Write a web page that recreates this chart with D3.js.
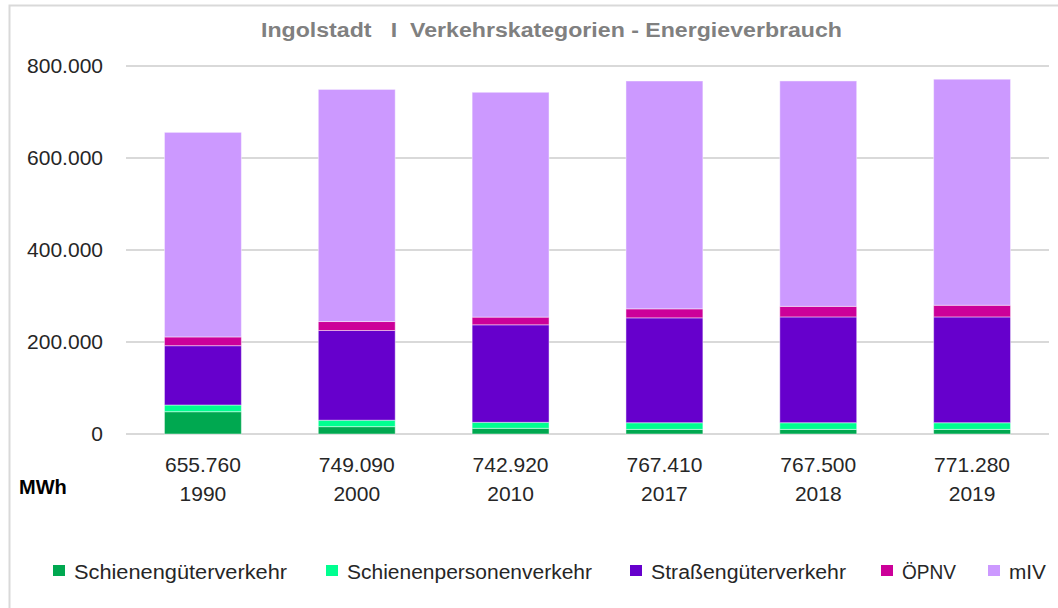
<html lang="de">
<head>
  <meta charset="utf-8" />
  <script src="https://d3js.org/d3.v7.min.js"></script>
  <style>
    body { margin: 0; background: #fff; }
    text { font-family: "Liberation Sans", Arial, sans-serif; }
  </style>
</head>
<body>
  <div id="chart"></div>
  <script>
    // data
    const years = ["1990", "2000", "2010", "2017", "2018", "2019"];
    const totals = ["655.760", "749.090", "742.920", "767.410", "767.500", "771.280"];
    const seriesNames = ["Schienengüterverkehr", "Schienenpersonenverkehr", "Straßengüterverkehr", "ÖPNV", "mIV"];
    const schieneGueter = [48500, 16000, 12400, 10000, 10000, 10000];
    const schienePersonen = [14500, 14000, 13000, 14500, 14500, 14500];
    const strasseGueter = [129000, 195000, 212000, 228000, 230000, 230000];
    const oepnv = [19000, 19500, 16700, 19600, 23000, 25400];
    const miv = [444760, 504590, 488820, 495310, 490000, 491380];
    const yTicks = [0, 200000, 400000, 600000, 800000];

    const colors = ["#00a850", "#00ff90", "#6600cc", "#cc0099", "#cc99ff"];
    const seriesValues = [schieneGueter, schienePersonen, strasseGueter, oepnv, miv];

    const W = 1058, H = 608;
    const plot = {left: 126, right: 1049, top: 66, bottom: 434};

    const svg = d3.select("#chart").append("svg")
      .attr("width", W).attr("height", H);

    // frame
    svg.append("rect").attr("x", 9.5).attr("y", 5.5)
      .attr("width", W + 20).attr("height", H + 20)
      .attr("fill", "none").attr("stroke", "#d9d9d9").attr("stroke-width", 2);

    svg.append("text")
      .attr("x", 261).attr("y", 37)
      .attr("font-size", "20px").attr("font-weight", "bold")
      .attr("fill", "#808080")
      .attr("xml:space", "preserve")
      .attr("textLength", 581).attr("lengthAdjust", "spacingAndGlyphs")
      .text("Ingolstadt   I  Verkehrskategorien - Energieverbrauch");

    const x = d3.scaleBand().domain(years)
      .range([plot.left, plot.right]).paddingInner(0.5).paddingOuter(0.25);
    const y = d3.scaleLinear().domain([0, 800000]).range([plot.bottom, plot.top]);

    // gridlines
    svg.append("g").selectAll("line").data(yTicks).join("line")
      .attr("x1", plot.left).attr("x2", plot.right)
      .attr("y1", d => y(d)).attr("y2", d => y(d))
      .attr("stroke", "#d9d9d9").attr("stroke-width", 2);

    const fmt = d3.formatLocale({decimal: ",", thousands: ".", grouping: [3], currency: ["", "€"]}).format(",");
    svg.append("g").selectAll("text").data(yTicks).join("text")
      .attr("x", 103).attr("y", d => y(d) + 7)
      .attr("text-anchor", "end")
      .attr("font-size", "21px").attr("fill", "#262626")
      .text(d => fmt(d));

    // stacked bars
    const table = years.map((yr, i) => {
      const row = {year: yr};
      seriesNames.forEach((s, k) => row[s] = seriesValues[k][i]);
      return row;
    });
    const stacked = d3.stack().keys(seriesNames)(table);

    svg.append("g").selectAll("g").data(stacked).join("g")
      .attr("fill", (d, i) => colors[i])
      .selectAll("rect").data(d => d).join("rect")
      .attr("x", d => x(d.data.year))
      .attr("width", x.bandwidth())
      .attr("y", d => y(d[1]))
      .attr("height", d => y(d[0]) - y(d[1]))
      .attr("stroke", "rgba(255,255,255,0.45)").attr("stroke-width", 1);

    // category labels
    const cat = svg.append("g");
    cat.selectAll("text.tot").data(years).join("text").attr("class", "tot")
      .attr("x", d => x(d) + x.bandwidth() / 2).attr("y", 472)
      .attr("text-anchor", "middle").attr("font-size", "21px").attr("fill", "#262626")
      .text((d, i) => totals[i]);
    cat.selectAll("text.yr").data(years).join("text").attr("class", "yr")
      .attr("x", d => x(d) + x.bandwidth() / 2).attr("y", 501)
      .attr("text-anchor", "middle").attr("font-size", "21px").attr("fill", "#262626")
      .text(d => d);

    svg.append("text").attr("x", 19).attr("y", 494)
      .attr("font-size", "20px").attr("font-weight", "bold").attr("fill", "#000")
      .text("MWh");

    // legend
    const legendX = [53, 326, 630, 881, 988];
    const legendTextLen = [213, 245, 195, 54, 37];
    const lg = svg.append("g").selectAll("g").data(seriesNames).join("g")
      .attr("transform", (d, i) => `translate(${legendX[i]},565)`);
    lg.append("rect").attr("width", 12).attr("height", 11)
      .attr("fill", (d, i) => colors[i]);
    lg.append("text").attr("x", 12 + 9).attr("y", 14)
      .attr("font-size", "20px").attr("fill", "#262626")
      .attr("textLength", (d, i) => legendTextLen[i]).attr("lengthAdjust", "spacingAndGlyphs")
      .text(d => d);
  </script>
</body>
</html>
